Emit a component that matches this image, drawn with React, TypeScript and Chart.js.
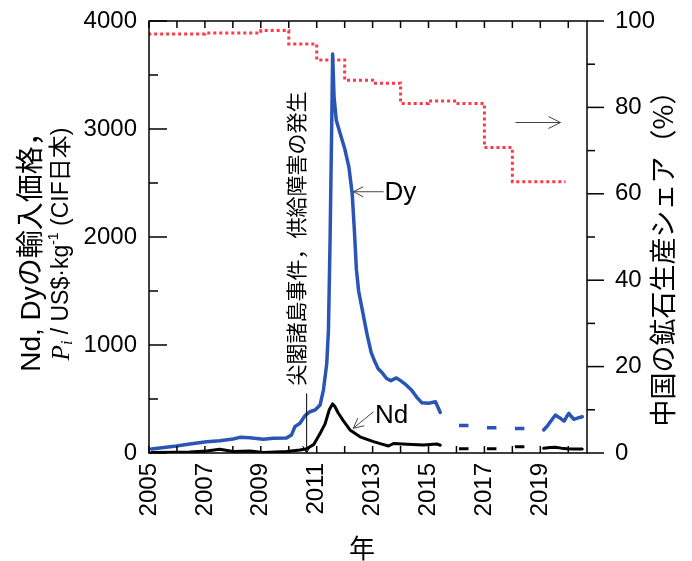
import React, { useEffect, useRef } from 'react';
import { Chart, registerables } from 'chart.js';
Chart.register(...registerables);

const FONT = "'Liberation Sans', Arial, 'Noto Sans CJK JP', sans-serif";
const CJK = "'Noto Sans CJK JP', 'Liberation Sans', sans-serif";

// ---- axes ----
const xMin = 2005;
const xMax = 2020.67;
const xTickYears = [2005, 2007, 2009, 2011, 2013, 2015, 2017, 2019];
const priceTicks = [0, 1000, 2000, 3000, 4000];
const shareTicks = [0, 20, 40, 60, 80, 100];

// ---- Dy import price (US$/kg); null = gap ----
const dyYears = [
  2005.09, 2005.98, 2006.46, 2007.06, 2007.53, 2008.01, 2008.25, 2008.61, 2009.09, 2009.44, 2009.92,
  2010.1, 2010.22, 2010.4, 2010.58, 2010.76, 2010.95, 2011.12, 2011.24, 2011.36, 2011.42, 2011.48,
  2011.54, 2011.57, 2011.62, 2011.7, 2011.85, 2012.0, 2012.15, 2012.27, 2012.35, 2012.42, 2012.5,
  2012.65, 2012.8, 2012.95, 2013.09, 2013.2, 2013.35, 2013.5, 2013.65, 2013.85, 2014.0, 2014.2,
  2014.4, 2014.6, 2014.76, 2015.0, 2015.25, 2015.42,
  2017.0,
  2019.12, 2019.25, 2019.36, 2019.54, 2019.63, 2019.72, 2019.85, 2019.95, 2020.02, 2020.1, 2020.2,
  2020.35, 2020.5,
];
const dyPrices = [
  37, 65, 83, 105, 114, 130, 145, 142, 127, 136, 140,
  167, 244, 275, 345, 382, 400, 444, 583, 830, 1139, 2000,
  3100, 3694, 3300, 3080, 2950, 2820, 2650, 2400, 2050, 1700, 1500,
  1300, 1100, 930, 840, 780, 740, 690, 670, 695, 670, 630,
  580, 510, 465, 460, 475, 375,
  null,
  213, 250, 290, 352, 335, 321, 296, 340, 367, 340, 312,
  325, 336,
];

// ---- Nd import price (US$/kg) ----
const ndYears = [
  2005.09, 2005.98, 2006.46, 2007.06, 2007.53, 2008.01, 2008.61, 2009.09, 2009.92, 2010.4, 2010.64,
  2010.9, 2011.12, 2011.3, 2011.45, 2011.57, 2011.65, 2011.77, 2011.95, 2012.19, 2012.55, 2013.03,
  2013.3, 2013.57, 2013.75, 2014.23, 2014.82, 2015.3, 2015.42,
  2017.0,
  2019.12, 2019.35, 2019.54, 2019.75, 2019.96, 2020.2, 2020.5,
];
const ndPrices = [
  5, 8, 10, 19, 34, 14, 19, 5, 14, 28, 40,
  80, 180, 270, 400, 455, 430, 370, 300, 213, 150, 105,
  85, 65, 88, 82, 74, 83, 72,
  null,
  43, 50, 53, 45, 40, 38, 37,
];

// ---- annual averages shown as short dashes (2016-2018) ----
const annualYears = [2016, 2017, 2018];
const dyAnnual = [255, 234, 228];
const ndAnnual = [40, 40, 58];

// ---- China's share of ore production (%) ----
const shareYears = [2005, 2007, 2009, 2010, 2011, 2012, 2013, 2014, 2015, 2016, 2017, 2018, 2019, 2019.9];
const sharePct = [96.8, 97.0, 97.2, 97.8, 94.7, 91.0, 86.3, 85.6, 80.9, 81.5, 80.9, 70.7, 62.8, 62.8];

// ---- annotations ----
const eventYear = 2010.64;
const eventLineTopPrice = 552;
const eventText = '尖閣諸島事件，供給障害の発生';
const eventTextYear = 2010.26;
const eventTextPrice = 1986;
const dyLabel = { text: 'Dy', year: 2013.99, price: 2407, fromYear: 2013.39, fromPrice: 2419, toYear: 2012.31, toPrice: 2419 };
const ndLabel = { text: 'Nd', year: 2013.68, price: 343, fromYear: 2013.03, fromPrice: 382, toYear: 2012.31, toPrice: 229 };
const shareArrow = { fromYear: 2018.11, toYear: 2019.72, pct: 76.5 };

const BLUE = '#2b55b4';
const RED = '#ff3848';

const pts = (xs: number[], ys: (number | null)[]) => xs.map((x, i) => ({ x, y: ys[i] }));
const seg = (vals: number[]) =>
  annualYears.flatMap((yr, i) => [
    { x: yr + 0.09, y: vals[i] },
    { x: yr + 0.43, y: vals[i] },
    { x: yr + 0.7, y: null as any },
  ]);

function line(ctx: CanvasRenderingContext2D, x1: number, y1: number, x2: number, y2: number) {
  ctx.beginPath();
  ctx.moveTo(x1, y1);
  ctx.lineTo(x2, y2);
  ctx.stroke();
}
function arrow(ctx: CanvasRenderingContext2D, fx: number, fy: number, tx: number, ty: number, len: number, half: number) {
  line(ctx, fx, fy, tx, ty);
  const a = Math.atan2(ty - fy, tx - fx);
  const c = Math.cos(a), s = Math.sin(a);
  ctx.beginPath();
  ctx.moveTo(tx - len * c + half * s, ty - len * s - half * c);
  ctx.lineTo(tx, ty);
  ctx.lineTo(tx - len * c - half * s, ty - len * s + half * c);
  ctx.stroke();
}

const overlay = {
  id: 'overlay',
  afterDatasetsDraw(chart: any) {
    const { ctx, chartArea: ca, scales } = chart;
    const xs = scales.x, ys = scales.y, ys2 = scales.y2;
    ctx.save();
    ctx.strokeStyle = '#000';
    ctx.lineWidth = 1.5;
    ctx.strokeRect(ca.left, ca.top, ca.right - ca.left, ca.bottom - ca.top);
    for (let yr = Math.ceil(xMin); yr <= xMax; yr += 1) {
      const px = xs.getPixelForValue(yr);
      line(ctx, px, ca.bottom, px, ca.bottom - 7);
      line(ctx, px, ca.top, px, ca.top + 7);
    }
    for (let v = 0; v <= 4000; v += 500) {
      const py = ys.getPixelForValue(v);
      line(ctx, ca.left, py, ca.left + (v % 1000 === 0 ? 18 : 9), py);
    }
    for (let v = 0; v <= 100; v += 10) {
      const py = ys2.getPixelForValue(v);
      line(ctx, ca.right, py, ca.right + (v % 20 === 0 ? 17 : 8), py);
    }

    ctx.lineWidth = 1;
    const ex = xs.getPixelForValue(eventYear);
    const e0 = ys.getPixelForValue(0);
    line(ctx, ex, ys.getPixelForValue(eventLineTopPrice), ex, e0);
    ctx.beginPath();
    ctx.moveTo(ex - 4, e0 - 7);
    ctx.lineTo(ex, e0);
    ctx.lineTo(ex + 4, e0 - 7);
    ctx.stroke();

    ctx.fillStyle = '#000';
    ctx.save();
    ctx.translate(xs.getPixelForValue(eventTextYear), ys.getPixelForValue(eventTextPrice));
    ctx.rotate(-Math.PI / 2);
    ctx.font = `21px ${CJK}`;
    ctx.textAlign = 'center';
    ctx.textBaseline = 'middle';
    ctx.fillText(eventText, 0, 0);
    ctx.restore();

    ctx.strokeStyle = '#444';
    ctx.lineWidth = 1;
    for (const L of [dyLabel, ndLabel]) {
      arrow(ctx, xs.getPixelForValue(L.fromYear), ys.getPixelForValue(L.fromPrice),
        xs.getPixelForValue(L.toYear), ys.getPixelForValue(L.toPrice), 10, 5);
      ctx.font = `26px ${FONT}`;
      ctx.textAlign = 'center';
      ctx.textBaseline = 'middle';
      ctx.fillText(L.text, xs.getPixelForValue(L.year), ys.getPixelForValue(L.price));
    }
    const sy = ys2.getPixelForValue(shareArrow.pct);
    arrow(ctx, xs.getPixelForValue(shareArrow.fromYear), sy, xs.getPixelForValue(shareArrow.toYear), sy, 12, 6);
    ctx.restore();
  },
  afterDraw(chart: any) {
    const { ctx, chartArea: ca } = chart;
    const midY = (ca.top + ca.bottom) / 2;
    ctx.save();
    ctx.fillStyle = '#000';
    ctx.textBaseline = 'middle';
    ctx.save();
    ctx.translate(ca.left - 117, midY + 8);
    ctx.rotate(-Math.PI / 2);
    ctx.font = `28px ${FONT}`;
    ctx.textAlign = 'center';
    ctx.fillText('Nd, Dyの輸入価格，', 0, 0);
    ctx.restore();
    ctx.save();
    ctx.translate(ca.left - 87, midY + 7);
    ctx.rotate(-Math.PI / 2);
    ctx.textAlign = 'left';
    const parts = [
      { t: 'P', f: `italic 25px 'Liberation Serif', serif`, dy: 0 },
      { t: 'i', f: `italic 16px 'Liberation Serif', serif`, dy: 6 },
      { t: ' / US$·kg', f: `23px ${FONT}`, dy: 0 },
      { t: '-1', f: `14px ${FONT}`, dy: -8 },
      { t: ' (CIF日本)', f: `23px ${FONT}`, dy: 0 },
    ];
    let total = 0;
    for (const p of parts) { ctx.font = p.f; total += ctx.measureText(p.t).width; }
    let x = -total / 2;
    for (const p of parts) { ctx.font = p.f; ctx.fillText(p.t, x, p.dy); x += ctx.measureText(p.t).width; }
    ctx.restore();
    ctx.save();
    ctx.translate(ca.right + 76, midY + 15);
    ctx.rotate(-Math.PI / 2);
    ctx.font = `27px ${CJK}`;
    ctx.textAlign = 'center';
    ctx.fillText('中国の鉱石生産シェア（%）', 0, 0);
    ctx.restore();
    ctx.font = `26px ${CJK}`;
    ctx.textAlign = 'center';
    ctx.fillText('年', (ca.left + ca.right) / 2 - 6, ca.bottom + 95);
    ctx.restore();
  },
};

export default function App() {
  const ref = useRef<HTMLCanvasElement>(null);
  useEffect(() => {
    const tickFont = { size: 24, family: FONT };
    const chart = new Chart(ref.current as HTMLCanvasElement, {
      type: 'line',
      data: {
        datasets: [
          { data: pts(dyYears, dyPrices) as any, borderColor: BLUE, borderWidth: 3.5, yAxisID: 'y', borderJoinStyle: 'round', borderCapStyle: 'round' },
          { data: seg(dyAnnual) as any, borderColor: BLUE, borderWidth: 3.5, yAxisID: 'y' },
          { data: pts(ndYears, ndPrices) as any, borderColor: '#000', borderWidth: 3, yAxisID: 'y', borderJoinStyle: 'round', borderCapStyle: 'round' },
          { data: seg(ndAnnual) as any, borderColor: '#000', borderWidth: 3, yAxisID: 'y' },
          { data: pts(shareYears, sharePct) as any, borderColor: RED, borderWidth: 3, borderDash: [3, 3], stepped: 'after', yAxisID: 'y2' },
        ],
      },
      options: {
        responsive: false,
        animation: false,
        spanGaps: false,
        elements: { point: { radius: 0 }, line: { tension: 0 } },
        layout: { padding: 0 },
        plugins: { legend: { display: false }, tooltip: { enabled: false } },
        scales: {
          x: {
            type: 'linear', position: 'bottom', min: xMin, max: xMax,
            afterBuildTicks: (s: any) => { s.ticks = xTickYears.map((v) => ({ value: v })); },
            afterFit: (s: any) => { s.height = 108; s.paddingLeft = 0; s.paddingRight = 0; },
            ticks: { autoSkip: false, minRotation: 90, maxRotation: 90, padding: 10, color: '#000', font: tickFont, callback: (v: any) => String(v) },
            grid: { display: false, drawTicks: false },
            border: { display: false },
          },
          y: {
            type: 'linear', position: 'left', min: 0, max: 4000,
            afterBuildTicks: (s: any) => { s.ticks = priceTicks.map((v) => ({ value: v })); },
            afterFit: (s: any) => { s.width = 149; s.paddingTop = 21; s.paddingBottom = 0; },
            ticks: { padding: 12, color: '#000', font: tickFont, callback: (v: any) => String(v) },
            grid: { display: false, drawTicks: false },
            border: { display: false },
          },
          y2: {
            type: 'linear', position: 'right', min: 0, max: 100,
            afterBuildTicks: (s: any) => { s.ticks = shareTicks.map((v) => ({ value: v })); },
            afterFit: (s: any) => { s.width = 105; s.paddingTop = 21; s.paddingBottom = 0; },
            ticks: { padding: 28, color: '#000', font: tickFont, callback: (v: any) => String(v) },
            grid: { display: false, drawTicks: false },
            border: { display: false },
          },
        },
      } as any,
      plugins: [overlay],
    });
    return () => chart.destroy();
  }, []);
  return (
    <div style={{ position: 'absolute', left: 0, top: 0, width: 692, height: 561, background: '#fff' }}>
      <canvas ref={ref} width={692} height={561} style={{ display: 'block', width: 692, height: 561 }} />
    </div>
  );
}
